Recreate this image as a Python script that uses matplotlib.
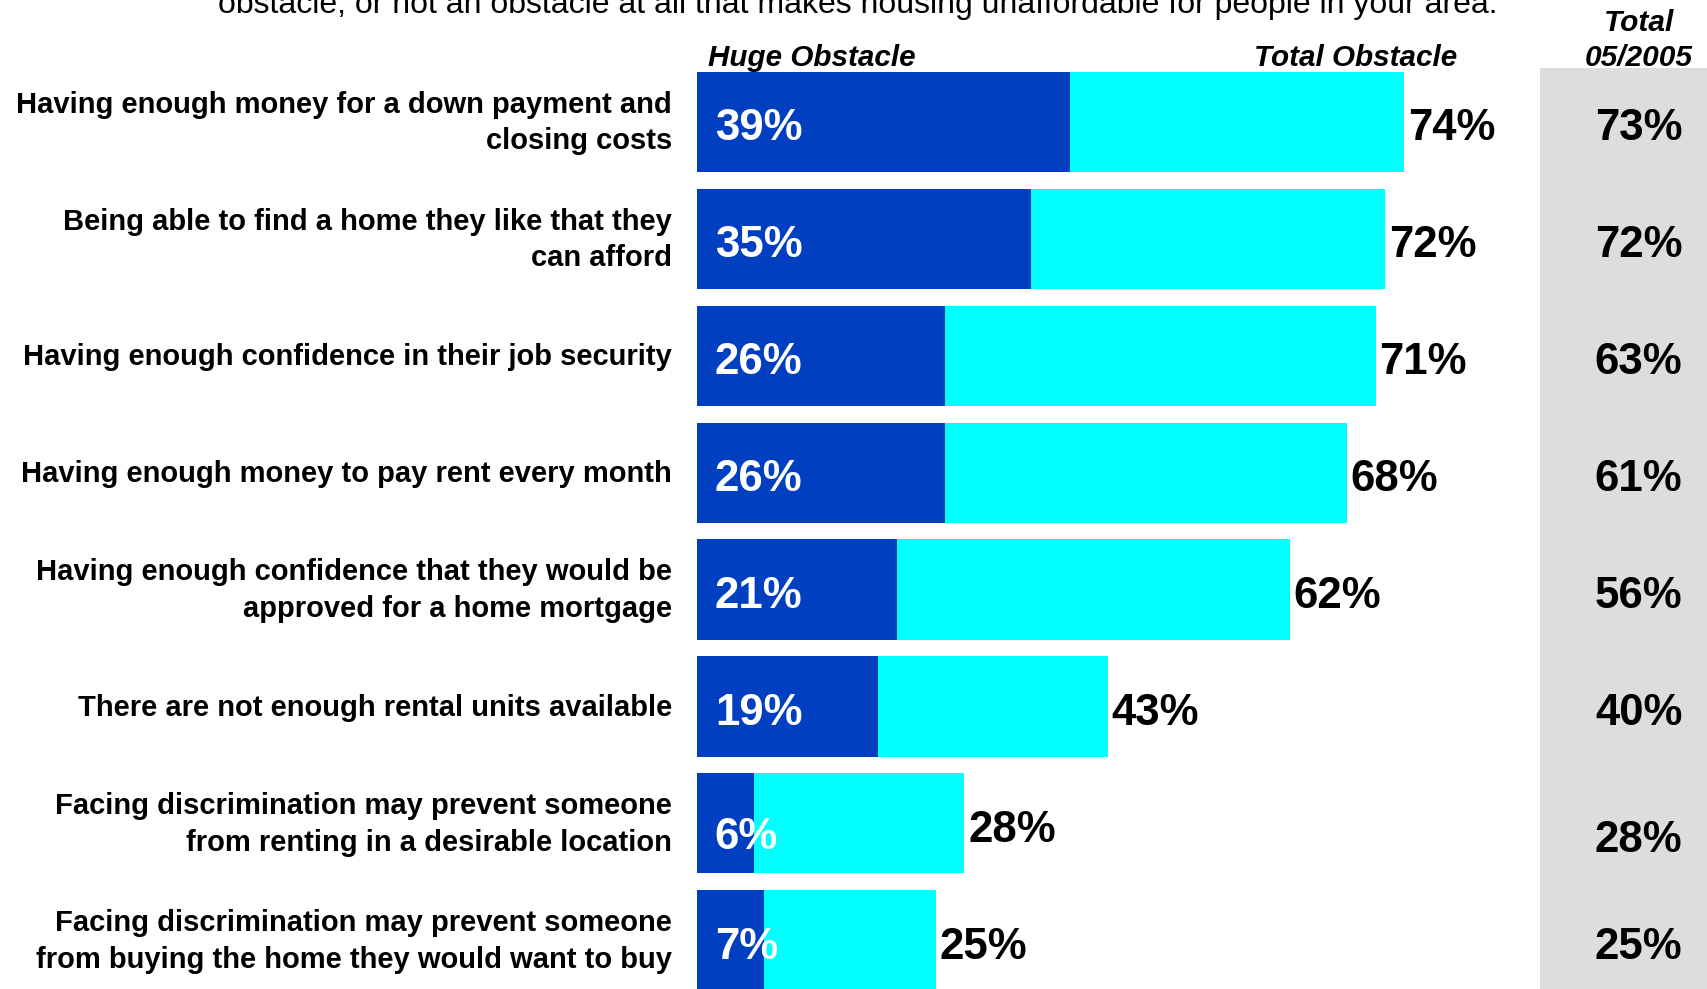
import matplotlib
matplotlib.use("Agg")
import matplotlib.pyplot as plt

plt.rcParams['font.family'] = ['Liberation Sans', 'DejaVu Sans']

categories = [
    "Having enough money for a down payment and\nclosing costs",
    "Being able to find a home they like that they\ncan afford",
    "Having enough confidence in their job security",
    "Having enough money to pay rent every month",
    "Having enough confidence that they would be\napproved for a home mortgage",
    "There are not enough rental units available",
    "Facing discrimination may prevent someone\nfrom renting in a desirable location",
    "Facing discrimination may prevent someone\nfrom buying the home they would want to buy",
]
huge = [39, 35, 26, 26, 21, 19, 6, 7]
total = [74, 72, 71, 68, 62, 43, 28, 25]
total_2005 = [73, 72, 63, 61, 56, 40, 28, 25]

title = "obstacle, or not an obstacle at all that makes housing unaffordable for people in your area."

DARK = "#0040C0"
CYAN = "#00FFFF"
GRAY = "#DDDDDD"

fig = plt.figure(figsize=(17.07, 9.89), dpi=100)
ax = fig.add_axes([0, 0, 1, 1])
ax.set_xlim(-72.85, 105.65)
ax.set_ylim(7.417, -1.043)
ax.axis('off')

# gray column for 2005 totals
ax.fill_between([88.2, 106], [-0.465, -0.465], [8, 8], color=GRAY, lw=0, zorder=0)

rows = list(range(len(categories)))
h = 0.857
ax.barh(rows, total, height=h, color=CYAN, zorder=1)
ax.barh(rows, huge, height=h, color=DARK, zorder=2)

# small vertical nudges of value labels (row 7 sits lower in the original)
dy_in = [0.06] * 8
dy_out = [0.06] * 8
dy_r = [0.06] * 8
dy_in[6], dy_out[6], dy_r[6] = 0.12, 0.06, 0.15

for i in rows:
    ax.text(-2.6, i + 0.01, categories[i], ha='right', va='center', fontsize=21,
            fontweight='bold', linespacing=1.39, multialignment='right')
    ax.text(1.9, i + dy_in[i], f"{huge[i]}%", ha='left', va='center', fontsize=31.5,
            fontweight='bold', color='white', zorder=3)
    ax.text(total[i] + 0.4, i + dy_out[i], f"{total[i]}%", ha='left', va='center',
            fontsize=31.5, fontweight='bold', color='black', zorder=3)
    ax.text(98.5, i + dy_r[i], f"{total_2005[i]}%", ha='center', va='center',
            fontsize=31.5, fontweight='bold', color='black', zorder=3)

ax.text(1.14, -0.55, "Huge Obstacle", ha='left', va='center', fontsize=21.3,
        fontweight='bold', style='italic')
ax.text(79.5, -0.55, "Total Obstacle", ha='right', va='center', fontsize=21.3,
        fontweight='bold', style='italic')
ax.text(98.5, -0.85, "Total", ha='center', va='center', fontsize=21.5,
        fontweight='bold', style='italic')
ax.text(98.5, -0.55, "05/2005", ha='center', va='center', fontsize=21.5,
        fontweight='bold', style='italic')

ax.text(-50.1, -0.932, title, ha='left', va='baseline', fontsize=23)

fig.savefig("out.png", dpi=100)
